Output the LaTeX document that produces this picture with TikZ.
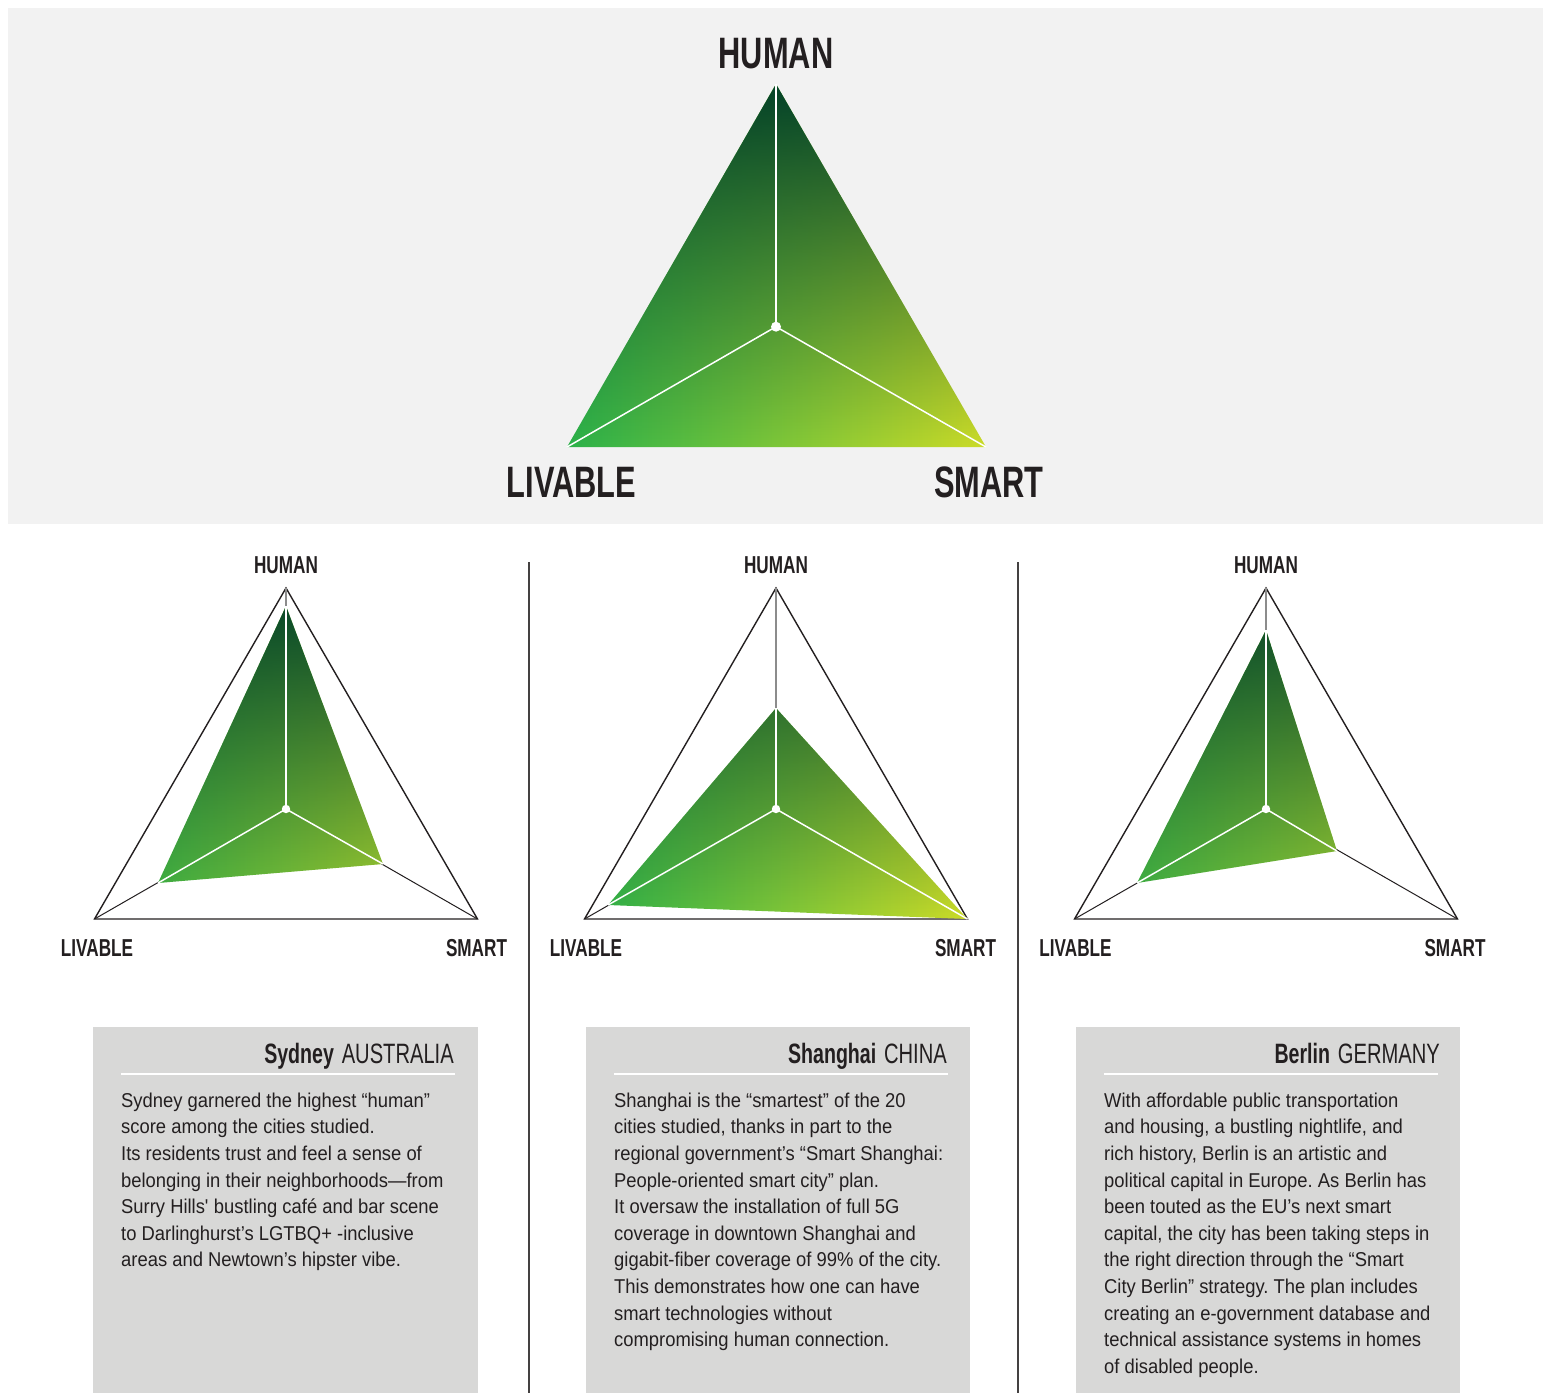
\documentclass[tikz,border=0pt]{standalone}
\usepackage{fontspec}
\usetikzlibrary{fadings}
\setmainfont{Liberation Sans}
\newfontfamily\condb{Liberation Sans Bold}[FakeStretch=0.70]
\newfontfamily\condr{Liberation Sans}[FakeStretch=0.72]
\newfontfamily\bodyf{Liberation Sans}[FakeStretch=0.92]
\definecolor{darkg}{RGB}{4,66,40}
\definecolor{brightg}{RGB}{44,178,74}
\definecolor{midg}{RGB}{112,180,68}
\definecolor{yellowg}{RGB}{205,220,40}
\definecolor{panelg}{RGB}{242,242,242}
\definecolor{boxg}{RGB}{216,216,215}
\definecolor{ink}{RGB}{35,31,32}
\definecolor{spokegray}{RGB}{140,140,140}
\tikzfading[name=darktop, top color=transparent!0, bottom color=transparent!100]
\newcommand{\greenfill}[3]{%
  \begin{scope}
    \clip #1;
    \shade[left color=brightg, middle color=midg, right color=yellowg] (#2) rectangle (#3);
    \fill[darkg, path fading=darktop] (#2) rectangle (#3);
  \end{scope}}
\tikzset{
  biglabel/.style={font=\condb\fontsize{44}{50}\selectfont, text=ink, inner sep=0, anchor=base},
  smalllabel/.style={font=\condb\fontsize{24.5}{28}\selectfont, text=ink, inner sep=0, anchor=base},
  outertri/.style={draw=ink, line width=1.4, line join=miter},
  spokeup/.style={draw=spokegray, line width=2},
  spokeout/.style={draw=ink, line width=1},
  spokein/.style={draw=white, line width=1.5},
  sepline/.style={draw=ink!85, line width=1.4},
  titlenode/.style={inner sep=0, anchor=base east, text=ink, font=\fontsize{28}{32}\selectfont},
  body/.style={font=\bodyf\fontsize{20}{26.6}\selectfont\frenchspacing, text=ink, align=left, inner sep=0, anchor=north west},
  rulew/.style={draw=white, line width=2}
}
\begin{document}
\begin{tikzpicture}[x=1pt, y=-1pt]
\useasboundingbox (0,0) rectangle (1550,1393);
% top panel
\fill[panelg] (8,8) rectangle (1543,524.3);
\coordinate (TH) at (776,84);
\coordinate (TL) at (567,447);
\coordinate (TR) at (986,447);
\coordinate (TC) at (776,326.7);
\greenfill{(TH)--(TL)--(TR)--cycle}{567,84}{986,447}
\draw[spokein] (TC) -- (TH);
\draw[spokein] (TC) -- (TL);
\draw[spokein] (TC) -- (TR);
\fill[white] (TC) circle (5);
\node[biglabel] (tHuman) at (776,68) {HUMAN};
\node[biglabel] (tLiv) at (571.5,497.5) {LIVABLE};
\node[biglabel] (tSmart) at (989,497.5) {SMART};

% separators
\coordinate (sepA1) at (529,562); \coordinate (sepA2) at (529,1393);
\coordinate (sepB1) at (1018,562); \coordinate (sepB2) at (1018,1393);
\draw[sepline] (sepA1) -- (sepA2);
\draw[sepline] (sepB1) -- (sepB2);

% ---------- Sydney ----------
\coordinate (SH) at (286,588);
\coordinate (SL) at (94.5,919);
\coordinate (SR) at (477.5,919);
\coordinate (SC) at (286,809);
\coordinate (S1) at (286,606);
\coordinate (S2) at (158,883);
\coordinate (S3) at (383,864);
\draw[outertri] (SH) -- (SL) -- (SR) -- cycle;
\draw[spokeup] (SC) -- (SH);
\draw[spokeout] (SC) -- (SL);
\draw[spokeout] (SC) -- (SR);
\greenfill{(S1)--(S2)--(S3)--cycle}{94.5,588}{477.5,919}
\draw[spokein] (SC) -- (S1);
\draw[spokein] (SC) -- (S2);
\draw[spokein] (SC) -- (S3);
\fill[white] (SC) circle (4.2);
\node[smalllabel] (sHuman) at (286,573) {HUMAN};
\node[smalllabel] (sLiv) at (97,956) {LIVABLE};
\node[smalllabel] (sSmart) at (476.5,956) {SMART};

% ---------- Shanghai ----------
\coordinate (HH) at (776,588);
\coordinate (HL) at (584.5,919);
\coordinate (HR) at (967.5,919);
\coordinate (HC) at (776,809);
\coordinate (H1) at (776,708);
\coordinate (H2) at (608,905);
\draw[outertri] (HH) -- (HL) -- (HR) -- cycle;
\draw[spokeup] (HC) -- (HH);
\draw[spokeout] (HC) -- (HL);
\greenfill{(H1)--(H2)--(HR)--cycle}{584.5,588}{967.5,919}
\draw[spokein] (HC) -- (H1);
\draw[spokein] (HC) -- (H2);
\draw[spokein] (HC) -- (HR);
\fill[white] (HC) circle (4.2);
\node[smalllabel] (hHuman) at (776,573) {HUMAN};
\node[smalllabel] (hLiv) at (586,956) {LIVABLE};
\node[smalllabel] (hSmart) at (965.5,956) {SMART};

% ---------- Berlin ----------
\coordinate (BH) at (1266,588);
\coordinate (BL) at (1074.5,919);
\coordinate (BR) at (1457.5,919);
\coordinate (BC) at (1266,809);
\coordinate (B1) at (1266,630);
\coordinate (B2) at (1137,883);
\coordinate (B3) at (1337,851);
\draw[outertri] (BH) -- (BL) -- (BR) -- cycle;
\draw[spokeup] (BC) -- (BH);
\draw[spokeout] (BC) -- (BL);
\draw[spokeout] (BC) -- (BR);
\greenfill{(B1)--(B2)--(B3)--cycle}{1074.5,588}{1457.5,919}
\draw[spokein] (BC) -- (B1);
\draw[spokein] (BC) -- (B2);
\draw[spokein] (BC) -- (B3);
\fill[white] (BC) circle (4.2);
\node[smalllabel] (bHuman) at (1266,573) {HUMAN};
\node[smalllabel] (bLiv) at (1075.5,956) {LIVABLE};
\node[smalllabel] (bSmart) at (1455,956) {SMART};

% ---------- text boxes ----------
\fill[boxg] (93,1027) rectangle (478,1393);
\fill[boxg] (586,1027) rectangle (970,1393);
\fill[boxg] (1076,1027) rectangle (1460,1393);

\node[titlenode] (ttSyd) at (454,1063) {{\condb Sydney} {\condr AUSTRALIA}};
\node[titlenode] (ttSha) at (947,1063) {{\condb Shanghai} {\condr CHINA}};
\node[titlenode] (ttBer) at (1440,1063) {{\condb Berlin} {\condr GERMANY}};

\coordinate (rS1) at (121,1073.5); \coordinate (rS2) at (455,1073.5);
\coordinate (rH1) at (614,1073.5); \coordinate (rH2) at (948,1073.5);
\coordinate (rB1) at (1104,1073.5); \coordinate (rB2) at (1438,1073.5);
\draw[rulew] (rS1) -- (rS2);
\draw[rulew] (rH1) -- (rH2);
\draw[rulew] (rB1) -- (rB2);

\node[body] (pSyd) at (121,1092.5) {Sydney garnered the highest “human”\\
score among the cities studied.\\
Its residents trust and feel a sense of\\
belonging in their neighborhoods—from\\
Surry Hills\textquotesingle{} bustling café and bar scene\\
to Darlinghurst’s LGTBQ+ -inclusive\\
areas and Newtown’s hipster vibe.};

\node[body] (pSha) at (614,1092.5) {Shanghai is the “smartest” of the 20\\
cities studied, thanks in part to the\\
regional government’s “Smart Shanghai:\\
People-oriented smart city” plan.\\
It oversaw the installation of full 5G\\
coverage in downtown Shanghai and\\
gigabit-fiber coverage of 99\% of the city.\\
This demonstrates how one can have\\
smart technologies without\\
compromising human connection.};

\node[body] (pBer) at (1104,1092.5) {With affordable public transportation\\
and housing, a bustling nightlife, and\\
rich history, Berlin is an artistic and\\
political capital in Europe. As Berlin has\\
been touted as the EU’s next smart\\
capital, the city has been taking steps in\\
the right direction through the “Smart\\
City Berlin” strategy. The plan includes\\
creating an e-government database and\\
technical assistance systems in homes\\
of disabled people.};
\end{tikzpicture}
\end{document}
